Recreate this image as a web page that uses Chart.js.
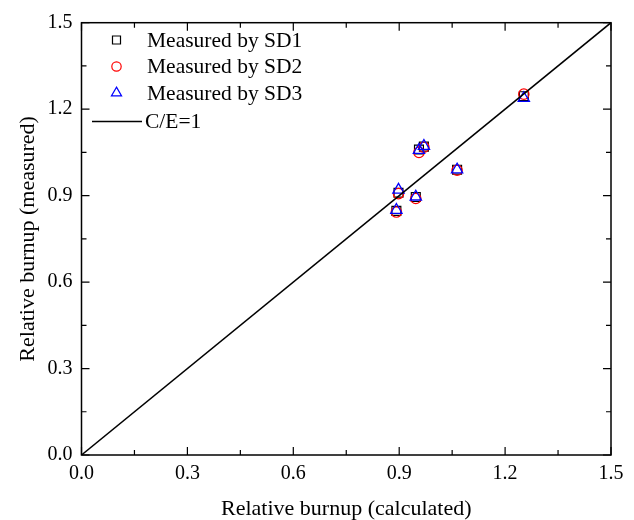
<!DOCTYPE html>
<html lang="en">
<head>
  <meta charset="UTF-8">
  <title>Relative burnup</title>
  <script src="https://cdn.jsdelivr.net/npm/chart.js"></script>
  <style>
    body {
      margin: 0;
      padding: 0;
      background-color: #fff;
    }

    #chart-container {
      width: 634px;
      height: 520px;
    }
  </style>
</head>
<body>
  <div id="chart-container">
    <canvas id="burnupChart"></canvas>
  </div>

  <script>
    // Values
    const calculated = [0.892, 0.898, 0.947, 0.956, 0.970, 1.064, 1.253];
    const measuredSD1 = [0.847, 0.910, 0.895, 1.060, 1.070, 0.990, 1.245];
    const measuredSD2 = [0.843, 0.907, 0.890, 1.050, 1.068, 0.988, 1.252];
    const measuredSD3 = [0.850, 0.920, 0.896, 1.058, 1.072, 0.990, 1.238];
    const refLineX = [0, 1.5];
    const refLineY = [0, 1.5];
    const tickValues = [0, 0.3, 0.6, 0.9, 1.2, 1.5];
    const seriesLabels = ['Measured by SD1', 'Measured by SD2', 'Measured by SD3', 'C/E=1'];

    const toPoints = (xs, ys) => xs.map((x, i) => ({ x: x, y: ys[i] }));

    const serif = '"Liberation Serif", "Times New Roman", serif';
    Chart.defaults.font.family = serif;
    Chart.defaults.font.size = 20;
    Chart.defaults.color = '#000';

    // Frame, inward ticks on all four sides, and the legend box
    const framePlugin = {
      id: 'frame',
      afterDraw(chart) {
        const ctx = chart.ctx;
        const area = chart.chartArea;
        const xs = chart.scales.x;
        const ys = chart.scales.y;
        ctx.save();
        ctx.strokeStyle = '#000';
        ctx.lineWidth = 1.5;
        ctx.strokeRect(area.left, area.top, area.right - area.left, area.bottom - area.top);

        ctx.lineWidth = 1.2;
        ctx.beginPath();
        for (let i = 0; i < tickValues.length; i++) {
          const v = tickValues[i];
          const subs = [v];
          if (i < tickValues.length - 1) subs.push((v + tickValues[i + 1]) / 2);
          subs.forEach((t, k) => {
            const len = k === 0 ? 8 : 5;
            const px = xs.getPixelForValue(t);
            const py = ys.getPixelForValue(t);
            ctx.moveTo(px, area.bottom); ctx.lineTo(px, area.bottom - len);
            ctx.moveTo(px, area.top); ctx.lineTo(px, area.top + len);
            ctx.moveTo(area.left, py); ctx.lineTo(area.left + len, py);
            ctx.moveTo(area.right, py); ctx.lineTo(area.right - len, py);
          });
        }
        ctx.stroke();

        // legend
        const ds = chart.data.datasets;
        const rowY = [40, 66.5, 93, 121.5];
        ctx.font = '21.5px ' + serif;
        ctx.textBaseline = 'middle';
        for (let i = 0; i < 3; i++) {
          ctx.strokeStyle = ds[i].borderColor;
          ctx.fillStyle = 'rgba(0,0,0,0)';
          Chart.helpers.drawPoint(ctx, {
            pointStyle: ds[i].pointStyle,
            radius: ds[i].pointRadius * 0.9,
            rotation: 0,
            borderWidth: ds[i].borderWidth
          }, 116.5, rowY[i]);
          ctx.fillStyle = '#000';
          ctx.fillText(seriesLabels[i], 147, rowY[i] + 1);
        }
        ctx.strokeStyle = '#000';
        ctx.lineWidth = 1.5;
        ctx.beginPath();
        ctx.moveTo(92, rowY[3]);
        ctx.lineTo(142, rowY[3]);
        ctx.stroke();
        ctx.fillText(seriesLabels[3], 145, rowY[3] + 1);
        ctx.restore();
      }
    };

    const ctx = document.getElementById('burnupChart').getContext('2d');
    const chart = new Chart(ctx, {
      type: 'scatter',
      data: {
        datasets: [
          {
            label: seriesLabels[0],
            data: toPoints(calculated, measuredSD1),
            pointStyle: 'rect',
            pointRadius: 6.3,
            borderColor: '#000',
            backgroundColor: 'rgba(0,0,0,0)',
            borderWidth: 1.2,
            order: 3
          },
          {
            label: seriesLabels[1],
            data: toPoints(calculated, measuredSD2),
            pointStyle: 'circle',
            pointRadius: 5.2,
            borderColor: '#ff0000',
            backgroundColor: 'rgba(0,0,0,0)',
            borderWidth: 1.2,
            order: 2
          },
          {
            label: seriesLabels[2],
            data: toPoints(calculated, measuredSD3),
            pointStyle: 'triangle',
            pointRadius: 6.5,
            borderColor: '#0000ff',
            backgroundColor: 'rgba(0,0,0,0)',
            borderWidth: 1.3,
            order: 1
          },
          {
            label: seriesLabels[3],
            data: toPoints(refLineX, refLineY),
            showLine: true,
            pointRadius: 0,
            borderColor: '#000',
            borderWidth: 1.5,
            order: 0
          }
        ]
      },
      options: {
        responsive: true,
        maintainAspectRatio: false,
        animation: false,
        layout: {
          padding: { top: 22.7, right: 23, left: 0, bottom: 0 }
        },
        plugins: {
          legend: { display: false },
          tooltip: { enabled: false }
        },
        scales: {
          x: {
            type: 'linear',
            min: 0,
            max: 1.5,
            afterBuildTicks: s => { s.ticks = tickValues.map(v => ({ value: v })); },
            afterFit: s => { s.height = 65; },
            grid: { display: false, drawTicks: false },
            border: { display: false },
            ticks: {
              padding: 7,
              maxRotation: 0,
              font: { size: 20 },
              callback: v => v.toFixed(1)
            },
            title: {
              display: true,
              text: 'Relative burnup (calculated)',
              font: { size: 22, lineHeight: 1 },
              padding: { top: 0, bottom: 0 }
            }
          },
          y: {
            type: 'linear',
            min: 0,
            max: 1.5,
            afterBuildTicks: s => { s.ticks = tickValues.map(v => ({ value: v })); },
            afterFit: s => { s.width = 81.5; },
            grid: { display: false, drawTicks: false },
            border: { display: false },
            ticks: {
              padding: 9,
              font: { size: 20 },
              callback: v => v.toFixed(1)
            },
            title: {
              display: true,
              text: 'Relative burnup (measured)',
              font: { size: 22, lineHeight: 1 },
              padding: { top: 17, bottom: 0 }
            }
          }
        }
      },
      plugins: [framePlugin]
    });
  </script>
</body>
</html>
